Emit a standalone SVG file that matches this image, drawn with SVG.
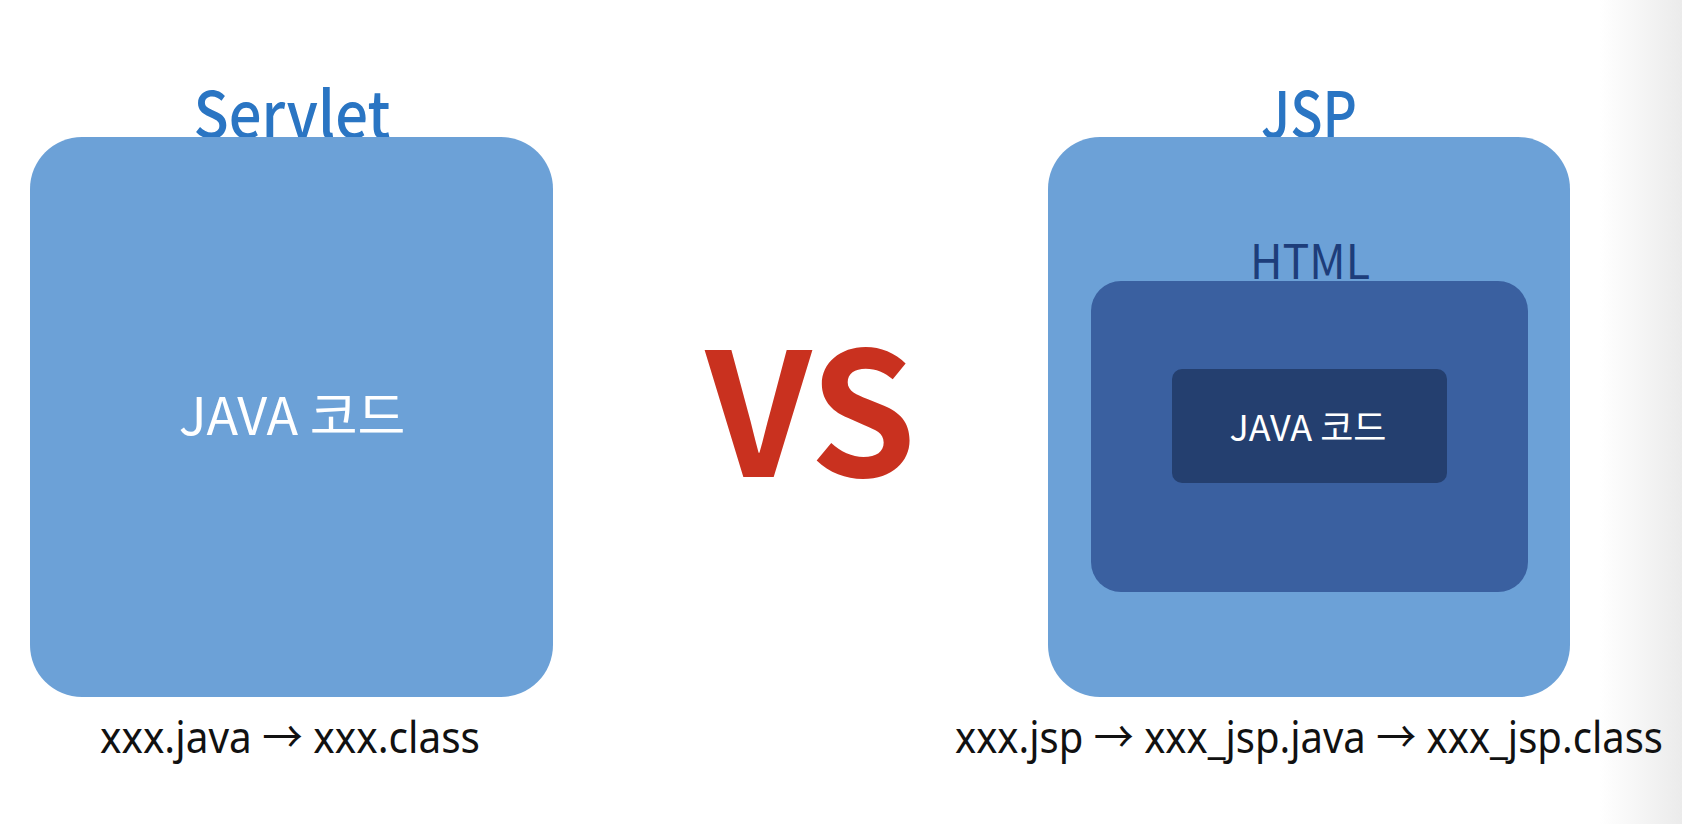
<svg xmlns="http://www.w3.org/2000/svg" width="1682" height="824" viewBox="0 0 1682 824">
<defs>
<linearGradient id="edge" x1="0" y1="0" x2="1" y2="0">
<stop offset="0" stop-color="#FFFFFF"/>
<stop offset="1" stop-color="#EBEBEB"/>
</linearGradient>
</defs>
<style>
.outer{fill:#6CA1D7}
.mid{fill:#3A60A0}
.inner{fill:#243F6F}
.title{font-family:"Noto Sans CJK KR","Noto Sans",sans-serif;font-weight:500;font-size:64px;fill:#2A75C3;text-anchor:middle}
.code{font-family:"Noto Sans CJK KR","Noto Sans",sans-serif;fill:#FFFFFF;text-anchor:middle}
.file{font-family:"Noto Sans","Noto Sans CJK KR",sans-serif;font-size:44px;fill:#111111}
</style>
<rect x="0" y="0" width="1682" height="824" fill="#FFFFFF"/>
<rect x="1600" y="0" width="82" height="824" fill="url(#edge)"/>
<g id="servlet">
<text class="title" x="292" y="138" textLength="197" lengthAdjust="spacingAndGlyphs">Servlet</text>
<rect class="outer" x="30" y="137" width="523" height="560" rx="52"/>
<text class="code" x="292" y="435" font-size="52">JAVA 코드</text>
<text class="file" x="100" y="753" textLength="380" lengthAdjust="spacingAndGlyphs">xxx.java  → xxx.class</text>
</g>
<g id="vs">
<text x="811" y="477" font-family="'Noto Sans CJK KR',sans-serif" font-weight="700" font-size="172" fill="#C9311F" text-anchor="middle" textLength="211" lengthAdjust="spacingAndGlyphs">VS</text>
</g>
<g id="jsp">
<text class="title" x="1309" y="138" textLength="96" lengthAdjust="spacingAndGlyphs">JSP</text>
<rect class="outer" x="1048" y="137" width="522" height="560" rx="52"/>
<text x="1310" y="279" font-family="'Noto Sans CJK KR','Noto Sans',sans-serif" font-size="48" fill="#1D3D7A" text-anchor="middle" textLength="120" lengthAdjust="spacingAndGlyphs">HTML</text>
<g id="html">
<rect class="mid" x="1091" y="281" width="437" height="311" rx="30"/>
</g>
<g id="java-code">
<rect class="inner" x="1172" y="369" width="275" height="114" rx="10"/>
<text class="code" x="1308" y="441" font-size="36">JAVA 코드</text>
</g>
<text class="file" x="955" y="753" textLength="708" lengthAdjust="spacingAndGlyphs">xxx.jsp → xxx_jsp.java  → xxx_jsp.class</text>
</g>
<g id="connectors"></g>
</svg>
